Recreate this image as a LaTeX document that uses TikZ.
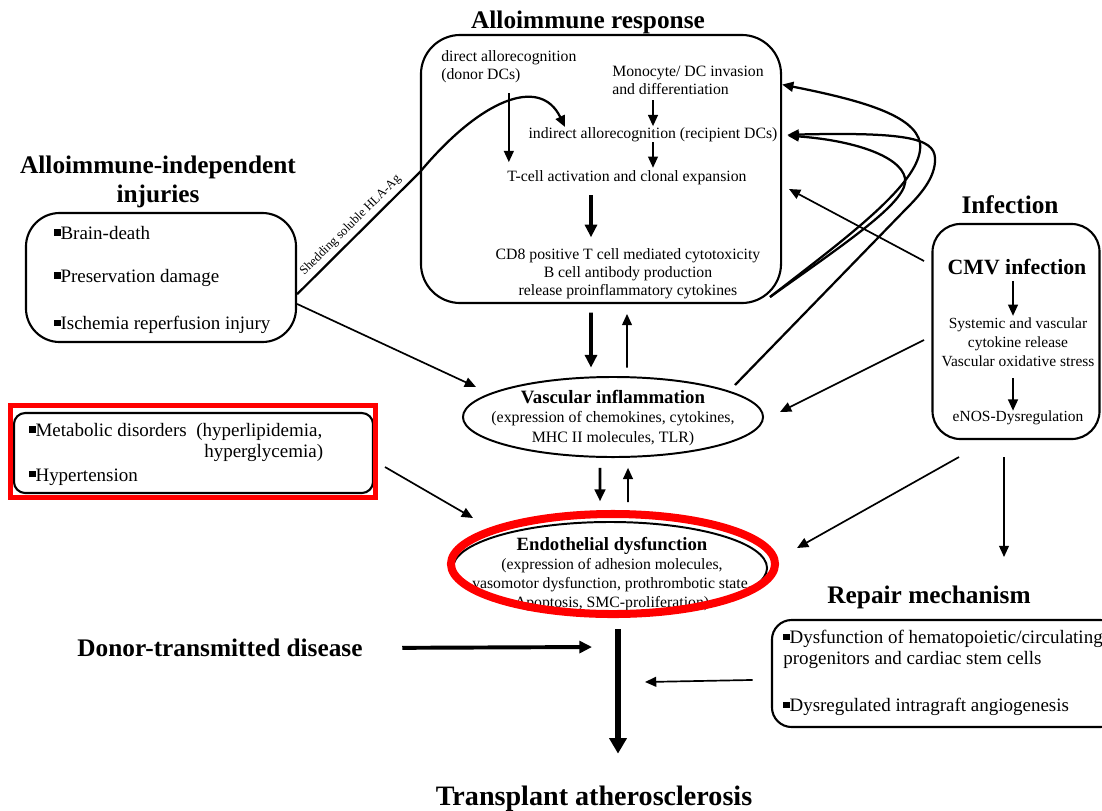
\documentclass[tikz,border=0pt]{standalone}
\usepackage{fontspec}
\setmainfont{Liberation Serif}
\usetikzlibrary{shapes.geometric,arrows.meta}

\newcommand{\sqbullet}{\rule[0.2em]{0.33em}{0.33em}}

\begin{document}
\begin{tikzpicture}[%
    x=0.025cm, y=-0.025cm,
    titletext/.style={
        font=\fontsize{18}{21.2}\selectfont\bfseries,
        align=center,
        inner sep=0pt},
    bodytext/.style={
        font=\fontsize{11.2}{12.8}\selectfont,
        align=center,
        inner sep=0pt},
    listitem/.style={
        font=\fontsize{13.5}{16}\selectfont,
        anchor=west,
        inner sep=0pt},
    roundbox/.style={
        draw,
        line width=1.5pt,
        inner sep=0pt},
    oval/.style={
        draw,
        ellipse,
        line width=1.4pt,
        inner sep=0pt},
    redmark/.style={draw=red, inner sep=0pt},
    thinarrow/.style={-{Triangle[length=8pt,width=7pt]}, line width=1.2pt},
    midarrow/.style={-{Triangle[length=8.5pt,width=7.5pt]}, line width=2pt},
    fatarrow/.style={-{Triangle[length=9pt,width=8.5pt]}, line width=2.5pt},
    hugearrow/.style={-{Triangle[length=11pt,width=12pt]}, line width=3.8pt},
    feedback/.style={-{Triangle[length=8pt,width=7pt]}, line width=1.6pt}
]

\useasboundingbox (0,0) rectangle (1102,810);

% alloimmune response
\node[titletext] (allotitle) at (588,22) {Alloimmune response};
\node[roundbox, rounded corners=28pt, minimum width=9cm, minimum height=6.7cm] (allo) at (601,169) {};
\node[bodytext, align=left, anchor=west] (direct) at (441,67) {direct allorecognition\\(donor DCs)};
\node[bodytext, align=left, anchor=west] (mono) at (612,80) {Monocyte/ DC invasion\\and differentiation};
\node[bodytext] (indirect) at (653,135) {indirect allorecognition (recipient DCs)};
\node[bodytext] (tcell) at (627,178) {T-cell activation and clonal expansion};
\node[bodytext] (cd8) at (628,274) {CD8 positive T cell mediated cytotoxicity\\B cell antibody production\\release proinflammatory cytokines};

\draw[thinarrow, shorten <=7pt, shorten >=6pt] (direct.south) -- (direct.south |- tcell.north);
\draw[thinarrow, shorten <=4pt, shorten >=1pt] (indirect.north |- mono.south) -- (indirect.north);
\draw[thinarrow, shorten >=2pt] (indirect.south) -- (indirect.south |- tcell.north);
\coordinate (tcsplit) at ([xshift=-0.9cm]tcell.south);
\draw[fatarrow, shorten <=7pt, shorten >=8pt] (tcsplit) -- (tcsplit |- cd8.north);

% alloimmune-independent injuries
\node[titletext] (indtitle) at (158,182) {Alloimmune-independent\\injuries};
\node[roundbox, rounded corners=24pt, minimum width=6.75cm, minimum height=3.225cm] (injuries) at (161,277.5) {};
\node[listitem] (braindeath) at (54,233) {\sqbullet Brain-death};
\node[listitem] (preservation) at (54,278) {\sqbullet Preservation damage};
\node[listitem] (ischemia) at (54,325) {\sqbullet Ischemia reperfusion injury};

\coordinate (hlatip) at (565,127);
\draw[feedback] (injuries.-7.6) -- node[sloped, above, font=\fontsize{9}{10}\selectfont, inner sep=3pt] (shedding) {Shedding soluble HLA-Ag} (420,172) .. controls (480,100) and (540,75) .. (hlatip);

% vascular inflammation
\node[oval, minimum width=7.5cm, minimum height=2cm] (vi) at (613,417) {};
\node[bodytext, font=\fontsize{11.3}{14}\selectfont] (vitext) at (613,418) {{\fontsize{13.4}{14}\selectfont\bfseries Vascular inflammation}\\(expression of chemokines, cytokines,\\MHC II molecules, TLR)};

% endothelial dysfunction
\node[oval, minimum width=7.85cm, minimum height=2.3cm] (ed) at (610,568) {};
\node[bodytext, font=\fontsize{11.2}{13.7}\selectfont] (edtext) at (612,574) {{\fontsize{13.3}{14}\selectfont\bfseries Endothelial dysfunction}\\(expression of adhesion molecules,\\vasomotor dysfunction, prothrombotic state,\\Apoptosis, SMC-proliferation)};

\draw[fatarrow, shorten <=6pt, shorten >=6pt] ([xshift=-0.25cm]allo.south) -- ([xshift=-0.55cm]vi.north);
\draw[thinarrow, shorten <=6pt, shorten >=7pt] ([xshift=0.35cm]vi.north) -- ([xshift=0.65cm]allo.south);
\draw[midarrow, shorten <=7pt, shorten >=14pt] ([xshift=-0.325cm]vi.south) -- ([xshift=-0.25cm]ed.north);
\draw[thinarrow, shorten <=13.5pt, shorten >=7pt] ([xshift=0.45cm]ed.north) -- ([xshift=0.375cm]vi.south);

\coordinate (viw) at (476,387);
\draw[thinarrow] (injuries.-11.5) -- (viw);

% metabolic disorders
\node[roundbox, rounded corners=8pt, minimum width=8.975cm, minimum height=2cm] (metabolic) at (193.5,453) {};
\node[listitem] (metab) at (29,432) {\sqbullet Metabolic disorders\ \ (hyperlipidemia,};
\node[listitem] (hyperglyc) at (204,453) {hyperglycemia)};
\node[listitem] (hypertension) at (29,477) {\sqbullet Hypertension};
\node[redmark, line width=3.5pt, minimum width=9.125cm, minimum height=2.3cm] (metmark) at (193,451.5) {};

\coordinate (metout) at (385,467);
\coordinate (edw) at (473,518);
\draw[thinarrow] (metout) -- (edw);

% infection
\node[titletext] (inftitle) at (1010,205) {Infection};
\node[roundbox, rounded corners=20pt, minimum width=4.175cm, minimum height=5.375cm] (cmv) at (1016,331.5) {};
\node[titletext, font=\fontsize{15.5}{18}\selectfont\bfseries] (cmvname) at (1017,267) {CMV infection};
\node[bodytext, font=\fontsize{11}{13.5}\selectfont] (systemic) at (1018,342) {Systemic and vascular\\cytokine release\\Vascular oxidative stress};
\node[bodytext, font=\fontsize{11}{13.5}\selectfont] (enos) at (1018,418) {eNOS-Dysregulation};
\draw[thinarrow, shorten <=4pt, shorten >=1pt] ([xshift=-0.1cm]cmvname.south) -- ([xshift=-0.125cm]systemic.north);
\draw[thinarrow, shorten <=8pt] ([xshift=-0.125cm]systemic.south) -- ([xshift=-0.125cm]enos.north);

\coordinate (cmvout1) at (924,261);
\coordinate (allorx) at (789,189);
\coordinate (cmvout2) at (924,340);
\coordinate (vie) at (780,412);
\coordinate (cmvout3) at (959,457);
\coordinate (ede) at (797,548);
\coordinate (cmvout4) at (1004,457);
\coordinate (repin) at (1004,557);
\draw[thinarrow] (cmvout1) -- (allorx);
\draw[thinarrow] (cmvout2) -- (vie);
\draw[thinarrow] (cmvout3) -- (ede);
\draw[thinarrow] (cmvout4) -- (repin);

% feedback loops to the alloimmune response
\coordinate (loopa) at (770,297);
\coordinate (loopb) at (735,385);
\draw[feedback] (loopa) .. controls (850,235) and (925,180) .. (920,143) .. controls (915,115) and (860,100) .. (allo.25.8);
\draw[feedback, shorten >=7pt] (loopa) .. controls (850,240) and (910,200) .. (905,178) .. controls (900,155) and (850,140) .. (indirect.east);
\draw[feedback, shorten >=7pt] (loopb) -- (905,210) .. controls (919,196) and (936,178) .. (935,158) .. controls (934,138) and (905,132) .. (indirect.east);

% repair mechanism
\node[titletext] (repairtitle) at (929,597) {Repair mechanism};
\node[roundbox, rounded corners=14pt, minimum width=8.7cm, minimum height=2.675cm] (repair) at (946,673.5) {};
\node[listitem] (hemato) at (783,639) {\sqbullet Dysfunction of hematopoietic/circulating};
\node[listitem] (progen) at (783,660) {progenitors and cardiac stem cells};
\node[listitem] (angio) at (783,707) {\sqbullet Dysregulated intragraft angiogenesis};
\coordinate (reptip) at (645,682);
\draw[thinarrow, shorten <=13pt] (repair.182.8) -- (reptip);

% donor disease and outcome
\node[titletext] (donor) at (220,648) {Donor-transmitted disease};
\coordinate (donortip) at (592,647);
\draw[fatarrow, line width=2.8pt, shorten <=28pt] (donor.east) -- (donortip);

\node[titletext, font=\fontsize{20}{24}\selectfont\bfseries] (transplant) at (594,799) {Transplant atherosclerosis};
\coordinate (edfoot) at ([xshift=0.2cm]ed.south);
\draw[hugearrow, shorten <=10pt, shorten >=23pt] (edfoot) -- (edfoot |- transplant.north);

\node[redmark, ellipse, line width=5.7pt, minimum width=8.1cm, minimum height=2.5cm] (edmark) at (613,564) {};

\end{tikzpicture}
\end{document}
